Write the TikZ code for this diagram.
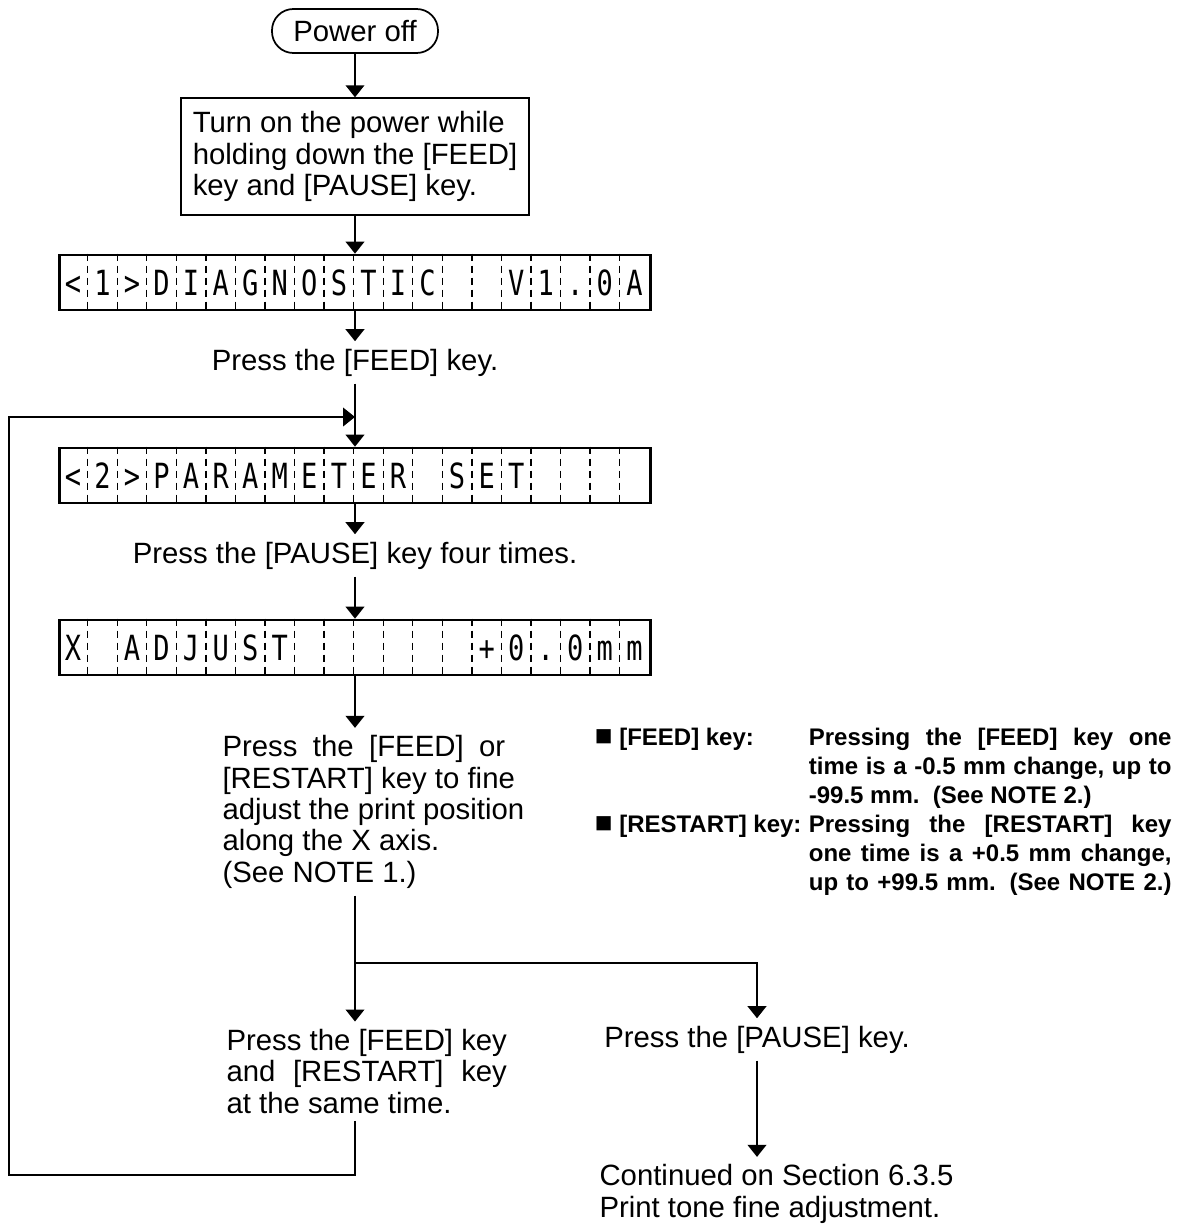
\documentclass[tikz,border=0pt]{standalone}
\usepackage{fontspec}
\usepackage{calc}
\setmainfont{Liberation Sans}
\newfontfamily\lcdfont[FakeStretch=0.78]{DejaVu Sans Mono}
\usetikzlibrary{arrows.meta,calc}

% one line of the 20-cell display
\newcommand\lcdline[3]{%
  \node[lcd] (#1) at (355,#2) {};
  \foreach \ch [count=\i] in {#3}
    \node[lcdchar] (#1-\i) at ($(#1.west)+(\i*29.55-14.78,0)$) {\ch};
  \foreach \i in {1,...,19}
    \draw[lcdsep] ($(#1.north west)+(\i*29.55,0)$) -- ($(#1.south west)+(\i*29.55,0)$);
}
\newcommand\sqbullet{{\fontsize{22}{21.75}\selectfont ■}}

\begin{document}
\begin{tikzpicture}[x=0.75pt,y=-0.75pt,line width=1.3pt,
  arr/.style={-{Triangle[width=14pt,length=9pt]}},
  txt/.style={font=\fontsize{22}{23.5}\selectfont,inner sep=5pt},
  block/.style={txt,align=left},
  procbox/.style={block,draw,inner xsep=9pt,inner ysep=10pt},
  term/.style={txt,draw,rounded corners=16pt,minimum width=124.5pt,minimum height=33pt},
  lcd/.style={draw,line width=2pt,minimum width=443.25pt,minimum height=41.25pt,inner sep=0pt},
  lcdchar/.style={font=\lcdfont\fontsize{26}{26}\selectfont,inner sep=0pt,text height=19pt,text depth=0pt},
  lcdsep/.style={line width=1pt,dash pattern=on 5.25pt off 3.75pt},
  note/.style={font=\bfseries\fontsize{18}{21.75}\selectfont,inner sep=0pt,align=left}]
  \useasboundingbox (0,0) rectangle (1183,1224);

  \node[term] (poweroff) at (355,31) {Power off};
  \node[procbox] (turnon) at (355,156.5) {Turn on the power while\\holding down the [FEED]\\key and [PAUSE] key.};
  \lcdline{diag}{282.5}{<,1,>,D,I,A,G,N,O,S,T,I,C, , ,V,1,.,0,A}
  \node[txt,anchor=base] (feedkey) at (355,370) {Press the [FEED] key.};
  \lcdline{param}{475.5}{<,2,>,P,A,R,A,M,E,T,E,R, ,S,E,T}
  \node[txt,anchor=base] (pausefour) at (355,563) {Press the [PAUSE] key four times.};
  \lcdline{xadj}{647.5}{X, ,A,D,J,U,S,T, , , , , , ,+,0,.,0,m,m}
  % multi-line nodes: base is the last line
  \node[block,anchor=base west] (finepos) at (215,882) {\makebox[212pt][s]{Press the [FEED] or}\\{}[RESTART] key to fine\\adjust the print position\\along the X axis.\\(See NOTE 1.)};

  \node[note,anchor=base west] (feedlbl) at (594,745) {\sqbullet\ [FEED] key:};
  \node[note,anchor=base west] (feednote) at (808,803) {\makebox[272pt][s]{Pressing the [FEED] key one}\\\makebox[272pt][s]{time is a -0.5 mm change, up to}\\-99.5 mm.\ \ (See NOTE 2.)};
  \node[note,anchor=base west] (restartlbl) at (594,832) {\sqbullet\ [RESTART] key:};
  \node[note,anchor=base west] (restartnote) at (808,890) {\makebox[272pt][s]{Pressing the [RESTART] key}\\\makebox[272pt][s]{one time is a +0.5 mm change,}\\\makebox[272pt][s]{up to +99.5 mm. (See NOTE 2.)}};

  \node[block,anchor=base west] (both) at (219,1113) {Press the [FEED] key\\\makebox[\widthof{Press the [FEED] key}][s]{and\ \ [RESTART]\ \ key}\\at the same time.};
  \node[txt,anchor=base] (pausekey) at (757,1047) {Press the [PAUSE] key.};
  \node[block,anchor=base west] (cont) at (592,1217) {Continued on Section 6.3.5\\Print tone fine adjustment.};

  \coordinate (split) at (355,963);
  \coordinate (splitr) at (757,963);
  \coordinate (loopbr) at (355,1175);
  \coordinate (loopbl) at (9,1175);
  \coordinate (looptl) at (9,417);
  \coordinate (loopin) at (355,417);

  \draw[arr] (poweroff) -- (turnon);
  \draw[arr] (turnon) -- (diag);
  \draw[arr] (diag) -- (feedkey);
  \draw[arr] (feedkey) -- (param);
  \draw[arr] (param) -- (pausefour);
  \draw[arr] (pausefour) -- (xadj);
  \draw[arr] (xadj) -- (finepos.north -| xadj);
  \draw[arr] (finepos.south -| split) -- (split) -- (both.north -| split);
  \draw[arr] (split) -- (splitr) -- (pausekey.north -| splitr);
  \draw[arr] (pausekey.south -| splitr) -- (cont.north -| splitr);
  \draw[arr] (both.south -| loopbr) -- (loopbr) -- (loopbl) -- (looptl) -- (loopin);
\end{tikzpicture}
\end{document}
